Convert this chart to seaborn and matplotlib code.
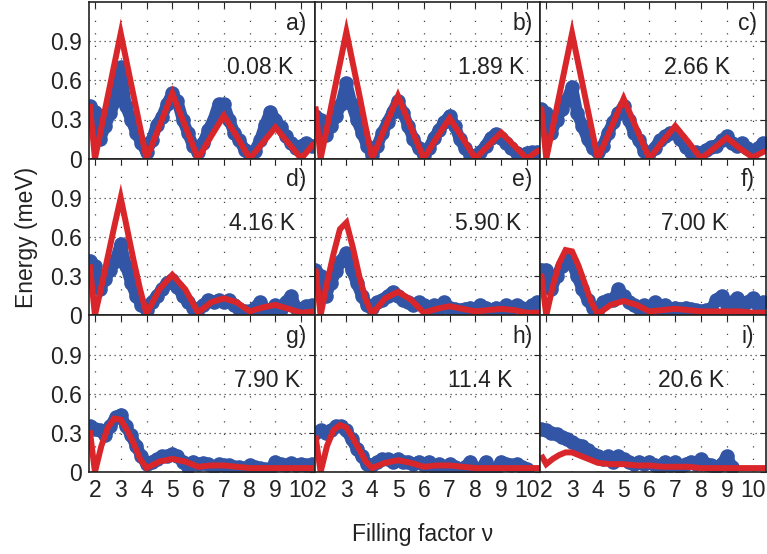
import numpy as np
import pandas as pd
import matplotlib
matplotlib.use("Agg")
import matplotlib.pyplot as plt
import seaborn as sns

# ---------------- data ----------------
panel_letters = ["a)", "b)", "c)", "d)", "e)", "f)", "g)", "h)", "i)"]
temperatures = ["0.08 K", "1.89 K", "2.66 K", "4.16 K", "5.90 K", "7.00 K", "7.90 K", "11.4 K", "20.6 K"]

x_ticks = [2, 3, 4, 5, 6, 7, 8, 9, 10]
x_tick_labels = ["2", "3", "4", "5", "6", "7", "8", "9", "10"]
y_ticks = [0, 0.3, 0.6, 0.9]
y_tick_labels = ["0", "0.3", "0.6", "0.9"]

# measured (blue) data, filling factor grid
blue_x = [1.8, 2.0, 2.2, 2.4, 2.6, 2.8, 3.0, 3.2, 3.4, 3.6, 3.8,
          4.0, 4.2, 4.4, 4.6, 4.8, 5.0, 5.2, 5.4, 5.6, 5.8,
          6.0, 6.2, 6.4, 6.6, 6.8, 7.0, 7.2, 7.4, 7.6, 7.8,
          8.0, 8.2, 8.4, 8.6, 8.8, 9.0, 9.2, 9.4, 9.6, 9.8,
          10.0, 10.2, 10.4]
nan = float("nan")
blue_a = [0.40, 0.36, 0.15, 0.25, 0.35, 0.45, 0.70, 0.40, 0.30, 0.20, 0.12,
          0.05, 0.14, 0.26, 0.32, 0.42, 0.50, 0.44, 0.30, 0.20, 0.10,
          0.05, 0.12, 0.22, 0.30, 0.42, 0.42, 0.30, 0.20, 0.14, 0.07,
          0.03, 0.06, 0.14, 0.26, 0.36, 0.30, 0.24, 0.17, 0.12, 0.08,
          0.10, 0.12, 0.10]
blue_b = [0.33, 0.30, 0.18, 0.25, 0.33, 0.42, 0.58, 0.42, 0.30, 0.20, 0.10,
          0.03, 0.10, 0.20, 0.28, 0.36, 0.44, 0.35, 0.25, 0.15, 0.08,
          0.03, 0.08, 0.16, 0.22, 0.28, 0.33, 0.25, 0.15, 0.08, 0.03,
          0.02, 0.05, 0.10, 0.16, 0.19, 0.16, 0.12, 0.08, 0.04, 0.02,
          0.04, 0.05, 0.05]
blue_c = [0.38, 0.35, 0.20, 0.30, 0.38, 0.45, 0.55, 0.35, 0.25, 0.15, 0.08,
          0.05, 0.10, 0.20, 0.28, 0.35, 0.40, 0.30, 0.20, 0.14, 0.06,
          0.04, 0.08, 0.14, 0.17, 0.20, 0.20, 0.15, 0.09, 0.05, 0.05,
          0.04, 0.07, 0.09, 0.10, 0.14, 0.17, 0.12, 0.10, 0.12, 0.08,
          0.05, 0.08, 0.12]
blue_d = [0.42, 0.38, 0.20, 0.28, 0.35, 0.42, 0.55, 0.38, 0.25, 0.15, 0.08,
          0.04, 0.10, 0.15, 0.20, 0.25, 0.27, 0.22, 0.15, 0.10, 0.06,
          0.05, 0.08, 0.12, 0.10, 0.12, 0.10, 0.12, 0.08, 0.05, 0.03,
          0.03, 0.06, 0.10, 0.05, 0.04, 0.08, 0.05, 0.10, 0.15, 0.06,
          0.05, 0.07, 0.08]
blue_e = [0.35, 0.30, 0.15, 0.25, 0.34, 0.42, 0.48, 0.35, 0.25, 0.15, 0.08,
          0.06, 0.10, 0.12, 0.15, 0.18, 0.15, 0.12, 0.10, 0.08, 0.10,
          0.08, 0.06, 0.08, 0.05, 0.10, 0.06, 0.05, 0.04, 0.05, 0.06,
          0.05, 0.08, 0.06, 0.04, 0.06, 0.05, 0.08, 0.06, 0.08, 0.06,
          0.05, 0.08, 0.10]
blue_f = [0.35, 0.35, 0.20, 0.30, 0.38, 0.45, 0.40, 0.30, 0.20, 0.12, 0.06,
          0.05, 0.10, 0.12, 0.12, 0.20, 0.15, 0.10, 0.08, 0.06, 0.08,
          0.06, 0.10, 0.06, 0.08, 0.05, 0.06, 0.05, 0.06, 0.05, 0.04,
          0.03, 0.04, 0.05, 0.12, 0.15, 0.08, 0.10, 0.13, 0.06, 0.10,
          0.13, 0.08, 0.10]
blue_g = [0.35, 0.33, 0.32, 0.28, 0.35, 0.42, 0.44, 0.35, 0.28, 0.20, 0.12,
          0.06, 0.08, 0.10, 0.12, 0.12, 0.14, 0.12, 0.08, 0.04, 0.08,
          0.06, 0.07, 0.06, 0.04, 0.06, 0.05, 0.05, 0.04, 0.04, 0.03,
          0.05, 0.04, 0.03, 0.02, 0.02, 0.08, 0.06, 0.05, 0.07, 0.05,
          0.06, 0.05, 0.06]
blue_h = [0.30, 0.32, 0.30, 0.32, 0.35, 0.35, 0.32, 0.25, 0.18, 0.12, 0.06,
          0.05, 0.08, 0.10, 0.10, 0.08, 0.10, 0.08, 0.08, 0.06, 0.08,
          0.05, 0.08, 0.04, 0.06, 0.03, 0.06, 0.04, 0.02, 0.04, 0.08,
          0.03, 0.02, 0.08, 0.02, 0.02, 0.08, 0.06, 0.05, 0.06, 0.04,
          0.02, nan, nan]
blue_i = [0.33, 0.32, 0.30, 0.29, 0.27, 0.25, 0.23, 0.21, 0.20, 0.17, 0.14,
          0.12, 0.10, 0.12, 0.08, 0.12, 0.10, 0.08, 0.06, 0.08, 0.06,
          0.08, 0.05, 0.04, 0.08, 0.05, 0.08, 0.04, 0.06, 0.08, 0.06,
          0.10, 0.06, 0.05, 0.04, 0.06, 0.12, 0.04, nan, nan, nan,
          nan, nan, nan]

# model (red) curves
red_x = [1.8, 2.0, 2.25, 2.5, 2.75, 3.0, 3.25, 3.5, 3.75, 4.0, 4.5, 5.0, 5.5,
         6.0, 6.5, 7.0, 7.5, 8.0, 8.5, 9.0, 9.5, 10.0, 10.5]
red_a = [0.42, 0.0, 0.24, 0.48, 0.72, 0.96, 0.72, 0.48, 0.24, 0.0, 0.25, 0.50, 0.25,
         0.0, 0.17, 0.33, 0.17, 0.0, 0.12, 0.24, 0.12, 0.0, 0.12]
red_b = [0.40, 0.0, 0.24, 0.49, 0.73, 0.97, 0.73, 0.49, 0.24, 0.0, 0.24, 0.48, 0.24,
         0.0, 0.16, 0.31, 0.16, 0.0, 0.10, 0.20, 0.10, 0.0, 0.07]
red_c = [0.40, 0.0, 0.24, 0.48, 0.72, 0.96, 0.72, 0.48, 0.24, 0.0, 0.23, 0.46, 0.23,
         0.0, 0.13, 0.25, 0.13, 0.0, 0.08, 0.16, 0.08, 0.01, 0.06]
red_d = [0.39, 0.0, 0.22, 0.45, 0.68, 0.90, 0.66, 0.42, 0.20, 0.01, 0.20, 0.31, 0.20,
         0.02, 0.10, 0.13, 0.10, 0.03, 0.06, 0.08, 0.05, 0.02, 0.03]
red_e = [0.36, 0.0, 0.25, 0.47, 0.66, 0.71, 0.52, 0.30, 0.12, 0.01, 0.13, 0.18, 0.12,
         0.02, 0.05, 0.07, 0.05, 0.03, 0.04, 0.05, 0.04, 0.02, 0.02]
red_f = [0.32, 0.0, 0.22, 0.40, 0.50, 0.49, 0.38, 0.24, 0.10, 0.01, 0.08, 0.11, 0.08,
         0.03, 0.04, 0.05, 0.04, 0.03, 0.03, 0.03, 0.03, 0.02, 0.02]
red_g = [0.32, 0.0, 0.20, 0.34, 0.41, 0.40, 0.32, 0.22, 0.10, 0.03, 0.08, 0.10, 0.08,
         0.04, 0.05, 0.05, 0.04, 0.03, 0.03, 0.03, 0.03, 0.03, 0.03]
red_h = [0.28, 0.0, 0.20, 0.32, 0.36, 0.34, 0.26, 0.17, 0.08, 0.03, 0.07, 0.09, 0.07,
         0.04, 0.05, 0.05, 0.04, 0.03, 0.03, 0.03, 0.03, 0.03, 0.03]
red_i = [0.13, 0.06, 0.10, 0.13, 0.15, 0.15, 0.13, 0.11, 0.09, 0.07, 0.06, 0.06, 0.05,
         0.05, 0.04, 0.04, 0.04, 0.03, 0.03, 0.03, 0.03, 0.03, 0.03]

blue_series = [blue_a, blue_b, blue_c, blue_d, blue_e, blue_f, blue_g, blue_h, blue_i]
red_series = [red_a, red_b, red_c, red_d, red_e, red_f, red_g, red_h, red_i]

# ---------------- layout / style ----------------
BLUE = "#3355a6"
RED = "#d8262b"
TXT = "#222222"
FS = 16.5
temp_xfrac = [0.757, 0.78, 0.695, 0.765, 0.77, 0.68, 0.79, 0.735, 0.67]
letter_xfrac = 0.92

sns.set_style("white")
plt.rcParams["font.family"] = ["Liberation Sans", "DejaVu Sans"]

fig = plt.figure(figsize=(7.67, 5.54), dpi=100)
gs = fig.add_gridspec(3, 3, left=89 / 767, right=766 / 767, top=1 - 2 / 554,
                      bottom=1 - 472 / 554, wspace=0, hspace=0)

for k in range(9):
    r, c = divmod(k, 3)
    ax = fig.add_subplot(gs[r, c])
    dfb = pd.DataFrame({"nu": blue_x, "E": blue_series[k]}).dropna()
    dfr = pd.DataFrame({"nu": red_x, "E": red_series[k]})
    sns.lineplot(data=dfb, x="nu", y="E", ax=ax, color=BLUE, lw=8.5,
                 estimator=None, sort=False, solid_joinstyle="round",
                 solid_capstyle="round", marker="o", markersize=10.5,
                 markeredgewidth=0, zorder=3)
    sns.lineplot(data=dfr, x="nu", y="E", ax=ax, color=RED, lw=4.3,
                 estimator=None, sort=False, solid_joinstyle="miter",
                 solid_capstyle="butt", zorder=4)
    ax.set_xlim(1.77, 10.52)
    ax.set_ylim(0, 1.2)
    ax.set_xticks(x_ticks)
    ax.set_yticks(y_ticks)
    ax.set_xlabel("")
    ax.set_ylabel("")
    ax.xaxis.grid(True, linestyle=(0, (1, 9)), color="#444444", lw=0.9)
    ax.yaxis.grid(True, linestyle=(0, (1, 3)), color="#444444", lw=0.9)
    ax.set_axisbelow(True)
    ax.tick_params(direction="in", top=True, right=True, length=4, width=0.8,
                   labelsize=FS, colors=TXT, pad=5)
    if c == 0:
        ax.set_yticklabels(y_tick_labels)
    else:
        ax.set_yticklabels([])
    if r == 2:
        ax.set_xticklabels(x_tick_labels)
    else:
        ax.set_xticklabels([])
    for s in ax.spines.values():
        s.set_color(TXT)
        s.set_linewidth(1.2)
        s.set_zorder(5)
    ax.text(letter_xfrac, 0.865, panel_letters[k], transform=ax.transAxes,
            ha="center", va="center", fontsize=FS, color=TXT, zorder=6)
    ax.text(temp_xfrac[k], 0.585, temperatures[k], transform=ax.transAxes,
            ha="center", va="center", fontsize=FS, color=TXT, zorder=6)

fig.text(26 / 767, 1 - 237 / 554, "Energy (meV)", rotation=90, ha="center",
         va="center", fontsize=FS, color=TXT)
fig.text(423 / 767, 1 - 534 / 554, "Filling factor \u03bd", ha="center",
         va="center", fontsize=FS, color=TXT)

fig.savefig("out.png", dpi=100)
